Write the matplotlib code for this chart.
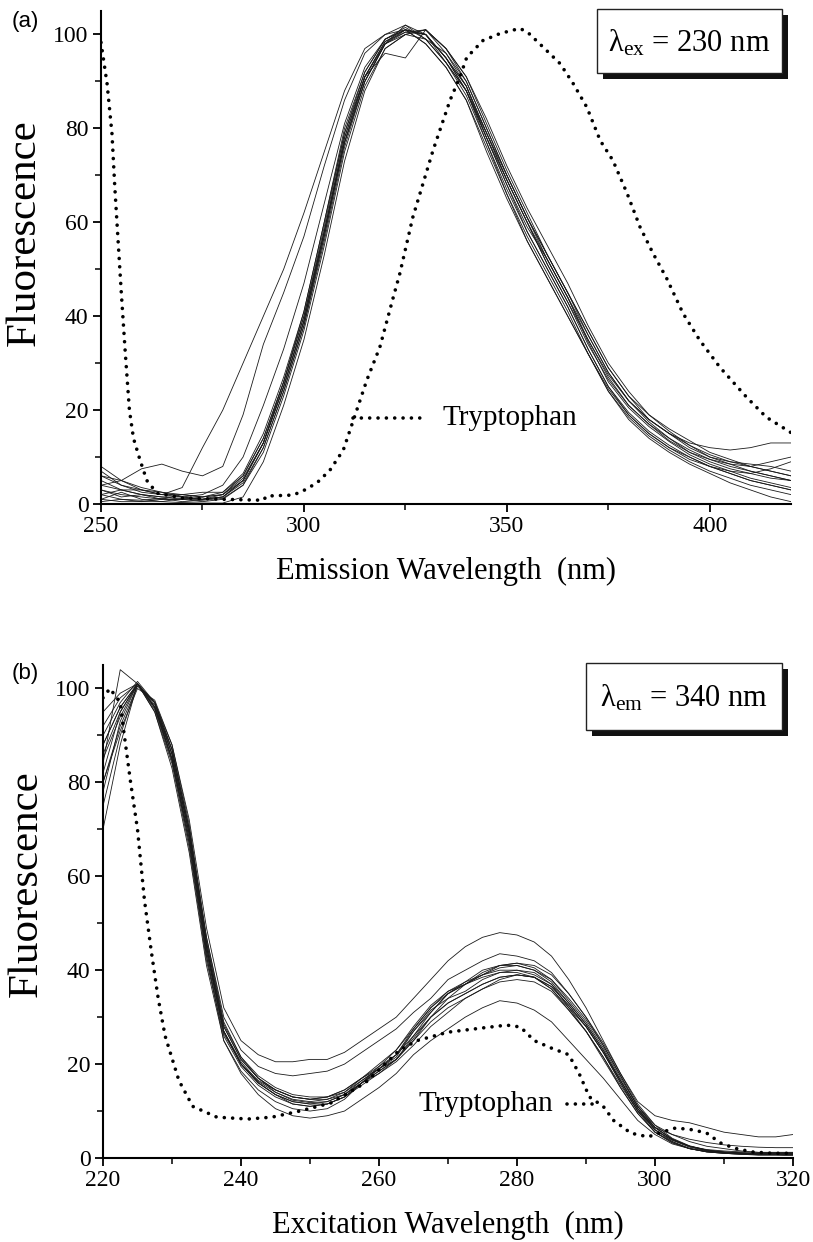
import matplotlib
matplotlib.use("Agg")
import matplotlib.pyplot as plt
from matplotlib.patches import Rectangle
from matplotlib.ticker import MultipleLocator

plt.rcParams['font.family'] = ['Liberation Serif', 'DejaVu Serif']
plt.rcParams['mathtext.fontset'] = 'custom'
plt.rcParams['mathtext.rm'] = 'Liberation Serif'
plt.rcParams['mathtext.it'] = 'Liberation Serif:italic'

# ---- panel (a): emission spectra, excitation 230 nm ----
em_wl = [250, 255, 260, 265, 270, 275, 280, 285, 290, 295, 300, 305, 310, 315, 320,
         325, 330, 335, 340, 345, 350, 355, 360, 365, 370, 375, 380, 385, 390, 395,
         400, 405, 410, 415, 420]

em_curves = [
    [3, 2, 1.5, 1, 1, 1, 1.5, 5, 13, 25, 39, 58, 78, 91, 98.5, 101, 100, 95, 89, 78, 68, 59, 52, 44, 34.5, 26, 20.5, 16.5, 13.3, 10.5, 8.5, 7, 5.5, 4.5, 3.5],
    [5, 3, 2, 1.5, 1, 1.5, 2, 6, 14, 26, 40, 59, 79, 92, 99, 101.5, 99, 94, 87, 77, 67, 58, 50, 42, 33, 25, 19.5, 15.5, 12.5, 10, 8, 6.5, 5, 4, 3],
    [1, 2.5, 1, 0.5, 1.2, 1, 1.5, 4.5, 12, 24, 38, 56, 76, 90, 98, 100.5, 101, 96, 90, 80, 70, 61, 53, 45, 36, 28, 22, 17.5, 14, 11.5, 9.5, 8, 7, 6, 5],
    [7, 4, 2.5, 2, 1.5, 1, 2, 5.5, 13, 25, 39, 57, 77, 91, 98, 102, 100, 94, 88, 78, 69, 60, 52, 44, 35, 27, 21, 17, 13.5, 11, 9.5, 8.5, 8, 9, 10],
    [0.5, 1, 0.8, 1.2, 0.5, 0.8, 1.2, 4, 11, 23, 37, 55, 75, 89, 97, 100, 101, 97, 91, 81, 71, 62, 53, 45, 37, 29, 23, 18, 15, 12, 10, 9, 8.5, 8, 7],
    [4, 5, 3, 2, 2, 1.5, 2.5, 6.5, 15, 27, 41, 60, 80, 92, 99, 101, 98, 93, 86, 76, 66, 56, 48, 40, 32, 24, 18.5, 14.5, 11.5, 9, 7, 5.5, 4, 3, 2],
    [2, 1, 0.5, 1, 2, 2.5, 2.5, 6, 14, 26, 40, 58, 77, 90, 98, 100, 99, 96, 89, 79, 69, 60, 51, 43, 35, 27.5, 22, 18, 15, 13, 12, 11.5, 12, 13, 13],
    [3, 1.5, 2, 1, 1, 0.5, 1, 4, 12, 24, 38, 57, 77, 90, 98, 101, 100, 95, 88, 77, 66, 57, 49, 41, 32, 24, 18, 14, 11, 8.5, 6.5, 4.5, 3, 1.5, 0.5],
    [6, 4, 3, 2.5, 2, 1.5, 2, 5, 13, 26, 41, 60, 79, 91, 96, 95, 101, 97, 90, 80, 70, 61, 53, 45, 37, 29, 23, 19, 16, 13.5, 11, 9.5, 8, 7, 6],
    [4, 3, 3, 2, 3.5, 12, 20, 30, 40, 50, 62, 75, 88, 97, 100, 101, 98, 93, 86, 75, 65, 56, 48, 40, 32, 24.5, 19, 15, 12, 10, 8, 6.5, 5, 4, 3],
    [6, 5, 7.5, 8.5, 7, 6, 8, 19, 34, 45, 57, 72, 86, 96, 100, 102, 99, 94, 88, 79, 70, 61, 52, 44, 36, 28, 22, 18, 15, 12.5, 10.5, 9, 8, 7, 6],
    [2, 3, 2, 1.5, 1.5, 2, 4, 10, 21, 33, 47, 64, 81, 93, 99, 101, 100, 95, 88, 78, 68, 58, 50, 42, 33, 25, 19, 15, 12, 9.5, 8, 7, 6.5, 7.5, 9],
    [1, 0.5, 0.5, 0.5, 0.3, 0.2, 0.2, 1.5, 9, 21, 35, 53, 73, 88, 97, 100, 101, 97, 91, 82, 72, 63, 55, 47, 38, 30, 24, 19, 15.5, 12.5, 10, 8.5, 7, 6, 5],
    [8, 5, 3.5, 2.5, 1.5, 1, 1.5, 5, 13, 25, 39, 58, 78, 91, 98.5, 100.5, 100, 95, 89, 79, 69, 60, 51, 43, 34, 26.5, 21, 17, 14, 11, 9, 7.5, 6.5, 5.5, 5],
]

trp_em_wl = [250, 251.5, 252.7, 253.4, 254.2, 255, 256, 257, 258, 259.6, 261.3, 263.8, 270, 280,
             290, 290.8, 297.3, 299.8, 303.2, 306.4, 309.7, 312.2, 315.5, 318.7, 322, 323.6,
             326.8, 331.8, 336, 338.4, 340.1, 344.1, 348.3, 353.2, 355.2, 358.1, 363.1, 366.3,
             369.7, 373, 376.1, 379.6, 382.8, 386, 389.4, 393.4, 397.5, 402.5, 409, 413.9, 420]
trp_em = [98.3, 89.5, 78.9, 67.5, 56.2, 45, 32, 20, 14, 9.4, 5, 2.3, 1.3, 1,
          0.8, 1.7, 1.9, 2.8, 4.5, 7.2, 11.5, 17.9, 26.4, 33.4, 44, 49,
          61, 75.3, 86, 90.9, 95.1, 98.7, 100.2, 101.3, 100.4, 98, 93.8, 89.6,
          84.5, 77.4, 73.2, 66.2, 59, 53.4, 48, 40.6, 34.9, 29.1, 22.8, 18.5, 15.2]

# ---- panel (b): excitation spectra, emission 340 nm ----
ex_wl = [220, 222.5, 225, 227.5, 230, 232.5, 235, 237.5, 240, 242.5, 245, 247.5, 250,
         252.5, 255, 257.5, 260, 262.5, 265, 267.5, 270, 272.5, 275, 277.5, 280, 282.5,
         285, 287.5, 290, 292.5, 295, 297.5, 300, 302.5, 305, 307.5, 310, 312.5, 315,
         317.5, 320]

ex_curves = [
    [86, 95, 101, 96, 85, 68, 44, 27, 20.5, 16.3, 14, 12.3, 11.8, 12, 13.5, 16.5, 19, 21.5, 27, 31.5, 34, 35.5, 38, 39.5, 40, 39.5, 37, 32, 28, 22.5, 16, 10, 6, 3.8, 2.3, 1.5, 1.2, 1, 0.8, 0.8, 0.8],
    [80, 92, 100.5, 97, 87, 70, 46, 28, 21, 17, 14.5, 13, 12.5, 13, 14.5, 17, 19.5, 22, 26, 30, 33, 35, 37, 38.5, 39, 38.5, 36, 32, 27, 21, 15, 9.5, 5.5, 3.5, 2, 1.3, 1, 0.8, 0.6, 0.6, 0.5],
    [92, 98, 101, 95, 84, 66, 42, 26, 19.5, 15.5, 13, 11.5, 11, 11.5, 13, 16, 18.5, 21, 26, 31, 35, 37, 39, 41, 41.5, 40.5, 38, 33.5, 29, 23.5, 17, 11, 6.5, 4, 2.5, 1.7, 1.3, 1.1, 1, 1, 1],
    [70, 88, 101, 97, 86, 69, 45, 27, 20, 16, 13.5, 12, 11.5, 11.5, 13, 16, 19, 22, 27.5, 32, 35, 37, 39, 40.5, 41, 40, 37.5, 33, 28.5, 23, 16.5, 10.5, 6, 3.8, 2.5, 1.6, 1.2, 1, 0.9, 0.9, 0.9],
    [82, 95, 101, 97, 88, 72, 49, 32, 25, 22, 20.5, 20.5, 21, 21, 22.5, 25, 27.5, 30, 34, 38, 42, 45, 47, 48, 47.5, 46, 43, 38, 32, 25, 18, 12, 9, 8, 7.5, 6.5, 5.5, 5, 4.5, 4.5, 5],
    [88, 96, 101, 96, 87, 70, 47, 30, 23, 19.5, 18, 17.5, 18, 18.5, 20, 22.5, 25, 27.5, 31, 34, 38, 40, 42, 43.5, 43, 42, 39.5, 35, 30, 24, 17.5, 11, 7, 5, 3.5, 2.5, 2, 1.5, 1.2, 1.2, 1.2],
    [78, 93, 101, 96, 85, 67, 43, 25, 18, 13.5, 10.5, 9, 8.5, 9, 10, 12.5, 15, 18, 22, 25, 27.5, 30, 32, 33.5, 33, 31.5, 29, 25, 21, 17, 12.5, 8, 5, 3, 2, 1.3, 1, 0.8, 0.7, 0.7, 0.7],
    [95, 99, 101, 95, 83, 65, 41, 25, 18.5, 14.5, 12, 10.5, 10, 10.5, 12.5, 16, 19.5, 23, 27.5, 32, 35.5, 37.5, 39, 40, 40, 39, 37, 33, 28.5, 23, 16.5, 10.5, 6, 3.5, 2, 1.4, 1.1, 1, 0.9, 0.9, 0.9],
    [85, 94, 101, 96.5, 86, 69, 45, 28, 21, 17, 14.5, 13, 12.5, 12.5, 13.5, 16, 18.5, 21, 25.5, 30, 33, 35, 37, 38.5, 39, 38.5, 36.5, 32.5, 28, 22.5, 16.5, 10.5, 6.5, 4, 2.5, 1.6, 1.2, 1, 0.9, 0.9, 0.9],
    [84, 104, 101, 96, 86, 69, 45, 27, 20, 16, 13.5, 11.5, 11, 11.5, 13, 15.5, 18, 21, 25, 29, 32, 34, 36, 38, 39, 38.5, 36.5, 32.5, 28, 22.5, 16, 10, 5.5, 3.2, 2, 1.4, 1.1, 0.9, 0.8, 0.8, 0.8],
    [90, 97, 101.5, 97, 87, 70, 46, 28.5, 21.5, 17.5, 15, 13.5, 13, 13, 14, 16.5, 19, 22, 27, 31, 35, 37.5, 40, 41, 41, 40, 38, 34, 29.5, 24, 17.5, 11, 6.5, 4, 2.5, 1.8, 1.5, 1.3, 1.2, 1.2, 1.2],
    [75, 90, 101, 96, 85, 68, 44, 27, 20, 16, 13.5, 12, 11.5, 12, 13.5, 16, 18, 20.5, 24, 28, 31, 34, 36, 37.5, 38, 37.5, 35.5, 31.5, 27, 21.5, 15.5, 10, 6.5, 5, 4, 3.3, 2.8, 2.5, 2.3, 2.2, 2.2],
    [88, 96, 101, 95.5, 84.5, 67, 43, 26.5, 20, 16.5, 14.5, 13, 12.5, 13, 14.5, 17, 19, 21, 25, 30, 34, 37, 39.5, 41, 41.5, 41, 39, 35, 30, 24.5, 18, 11.5, 7, 4.2, 2.6, 1.7, 1.3, 1.1, 1, 1, 1],
    [80, 91, 100, 97.5, 88, 71, 47, 29, 21.5, 17, 14, 12.5, 12, 12.5, 14, 17, 20, 23, 28, 32.5, 35.5, 37, 38.5, 39.5, 39.5, 38.5, 36, 31.5, 27, 21.5, 15, 9.5, 5.5, 3.3, 2, 1.3, 1, 0.8, 0.7, 0.7, 0.7],
]

trp_ex_wl = [220, 221, 222.5, 223, 224, 225, 226, 227, 228, 229, 231, 233, 236.5, 241, 244.5,
             248.5, 253, 258, 263, 265.5, 270, 275, 278.5, 280.5, 282.5, 285, 287.5, 289,
             290.5, 292.5, 294, 296.5, 299, 301, 303, 305.5, 307.5, 309.5, 311.5, 314, 317, 320]
trp_ex = [98, 100, 97, 91, 80, 70, 55, 44, 34, 26, 16.5, 11, 8.7, 8.3, 8.7,
          10, 11.7, 16, 23, 25, 26.8, 27.7, 28.3, 27.9, 25, 23.4, 22, 18,
          13, 11, 8, 5.3, 4.5, 5.5, 6.4, 6, 5.3, 3.2, 2.1, 1.3, 1, 1]

W, H = 813, 1242
fig = plt.figure(figsize=(W / 100, H / 100), dpi=100)

dot_style = dict(color='black', lw=2.6, linestyle=(0, (0.01, 2.3)), dash_capstyle='round')
line_style = dict(color='#1a1a1a', lw=0.6)


def style_axes(ax, xmin, xmax, xmaj, xmin_step, xlab, ylab_y):
    ax.set_xlim(xmin, xmax)
    ax.set_ylim(0, 105)
    ax.spines['top'].set_visible(False)
    ax.spines['right'].set_visible(False)
    for s in ('left', 'bottom'):
        ax.spines[s].set_linewidth(1.5)
    ax.xaxis.set_major_locator(MultipleLocator(xmaj))
    ax.xaxis.set_minor_locator(MultipleLocator(xmin_step))
    ax.yaxis.set_major_locator(MultipleLocator(20))
    ax.yaxis.set_minor_locator(MultipleLocator(10))
    ax.tick_params(which='major', direction='out', length=6, width=1.3, labelsize=17, pad=3)
    ax.tick_params(which='minor', direction='out', length=4, width=1.1)
    ax.set_xlabel(xlab, fontsize=22)
    ax.xaxis.set_label_coords(0.5, -0.107)
    ax.set_ylabel('Fluorescence', fontsize=31, va='center')
    ax.yaxis.set_label_coords(-0.111, ylab_y)


# panel (a)
ax1 = fig.add_axes([101 / W, 1 - 504 / H, 690 / W, 493 / H])
for c in em_curves:
    ax1.plot(em_wl, c, **line_style)
ax1.plot(trp_em_wl, trp_em, **dot_style)
ax1.plot([312.2, 330.3], [18.3, 18.3], **dot_style)
ax1.text(334.2, 18.3, 'Tryptophan', fontsize=21, va='center', ha='left')
style_axes(ax1, 250, 420, 50, 25, 'Emission Wavelength  (nm)', 0.55)

# panel (b)
ax2 = fig.add_axes([103 / W, 1 - 1158 / H, 690 / W, 493 / H])
for c in ex_curves:
    ax2.plot(ex_wl, c, **line_style)
ax2.plot(trp_ex_wl, trp_ex, **dot_style)
ax2.plot([287.2, 291.8], [11.5, 11.5], **dot_style)
ax2.text(285.3, 11.5, 'Tryptophan', fontsize=21, va='center', ha='right')
style_axes(ax2, 220, 320, 20, 10, 'Excitation Wavelength  (nm)', 0.556)

# panel letters
fig.text(12 / W, 1 - 22 / H, '(a)', fontsize=16, family='Liberation Sans', va='center')
fig.text(12 / W, 1 - 674 / H, '(b)', fontsize=16, family='Liberation Sans', va='center')


# boxed condition labels with drop shadow
def shadow_box(x0, y0, x1, y1, label):
    sh = 6
    fig.add_artist(Rectangle(((x0 + sh) / W, 1 - (y1 + sh) / H), (x1 - x0) / W, (y1 - y0) / H,
                             transform=fig.transFigure, fc='#111111', ec='none'))
    fig.add_artist(Rectangle((x0 / W, 1 - y1 / H), (x1 - x0) / W, (y1 - y0) / H,
                             transform=fig.transFigure, fc='white', ec='#222222', lw=1.0))
    fig.text((x0 + x1) / 2 / W, 1 - ((y0 + y1) / 2 + 2) / H, label, fontsize=22,
             ha='center', va='center')


shadow_box(597, 9, 782, 73, 'λ$_{\\mathrm{ex}}$ = 230 nm')
shadow_box(586, 663, 782, 730, 'λ$_{\\mathrm{em}}$ = 340 nm')

fig.savefig('out.png', dpi=100)
